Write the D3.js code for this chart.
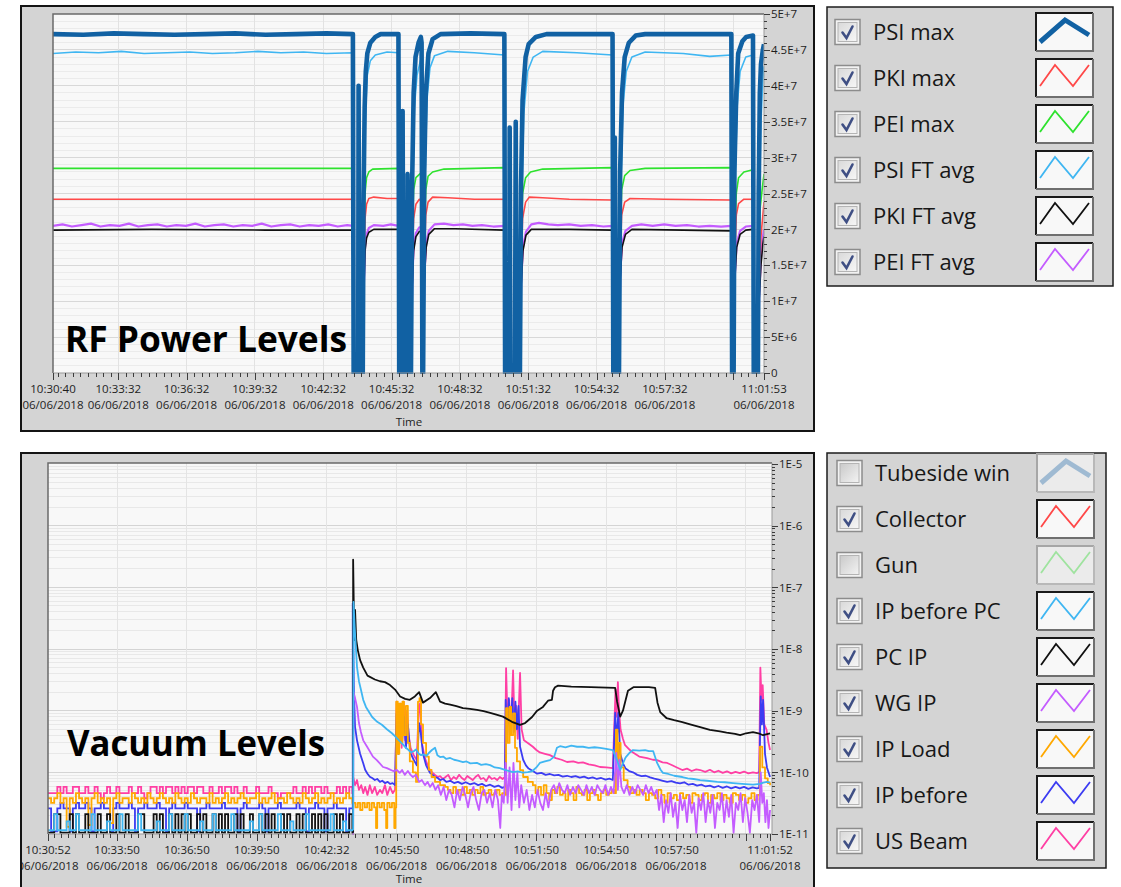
<!DOCTYPE html>
<html>
<head>
<meta charset="utf-8">
<title>RF Power and Vacuum Levels</title>
<script src="https://cdn.jsdelivr.net/npm/d3@7/dist/d3.min.js"></script>
<style>
  html, body { margin: 0; padding: 0; background: #ffffff; }
  svg { display: block; }
</style>
</head>
<body>
<svg id="chart" width="1121" height="887"></svg>
<script>
// All sample times are seconds after 10:30:00 on 06/06/2018.

// ---------------- RF power levels (W) ----------------
const RF_NAMES  = ["PSI max", "PKI max", "PEI max", "PSI FT avg", "PKI FT avg", "PEI FT avg"];
const RF_COLORS = ["#1161a3", "#ff4848", "#2ee22e", "#3fb6f2", "#111111", "#c45cff"];
const RF_WIDTHS = [4.6, 1.6, 1.6, 1.6, 1.6, 2.2];

const PSI_MAX = [
  [40,4.72e7],[120,4.71e7],[200,4.73e7],[280,4.72e7],[360,4.71e7],[440,4.72e7],[520,4.73e7],[600,4.71e7],[680,4.72e7],[760,4.73e7],[830,4.72e7],
  [832,0],[844,0],[845,4.0e7],[847,0],[856,0],[858,2.4e7],[861,3.7e7],[864,4.2e7],[868,4.45e7],[876,4.6e7],[889,4.68e7],[903,4.72e7],[950,4.72e7],
  [952,0],[960,0],[961,3.65e7],[963,0],[973,0],[974,2.77e7],[976,0],[983,0],[986,2.6e7],[990,3.9e7],[995,4.4e7],[1003,4.6e7],[1009,4.68e7],[1011,4.6e7],
  [1013,0],[1015,0],[1018,2.8e7],[1022,3.9e7],[1029,4.45e7],[1040,4.65e7],[1061,4.72e7],[1140,4.73e7],[1229,4.72e7],
  [1231,0],[1242,0],[1243,3.42e7],[1245,0],[1257,0],[1259,3.5e7],[1261,0],[1270,0],[1273,2.6e7],[1277,3.8e7],[1285,4.4e7],[1293,4.58e7],[1312,4.68e7],[1340,4.72e7],[1430,4.72e7],[1514,4.72e7],
  [1516,0],[1519,0],[1520,3.28e7],[1522,0],[1531,0],[1534,2.8e7],[1539,3.9e7],[1546,4.4e7],[1557,4.6e7],[1575,4.7e7],[1600,4.72e7],[1700,4.72e7],[1827,4.72e7],
  [1829,0],[1833,0],[1835,2.8e7],[1840,3.9e7],[1845,4.45e7],[1856,4.62e7],[1866,4.68e7],[1884,4.7e7],
  [1886,0],[1897,0],[1899,2.5e7],[1902,3.9e7],[1905,4.3e7],[1910,4.5e7],[1913,4.58e7]
];
const PKI_MAX = [
  [40,2.42e7],[300,2.42e7],[600,2.42e7],[830,2.42e7],
  [832,0],[856,0],[859,1.6e7],[862,2.15e7],[866,2.35e7],[872,2.43e7],[885,2.45e7],[920,2.43e7],[950,2.43e7],
  [952,0],[983,0],[986,1.6e7],[990,2.15e7],[996,2.35e7],[1005,2.42e7],[1011,2.4e7],
  [1013,0],[1015,0],[1018,1.6e7],[1022,2.2e7],[1028,2.38e7],[1040,2.45e7],[1080,2.44e7],[1150,2.42e7],[1229,2.42e7],
  [1231,0],[1270,0],[1273,1.5e7],[1277,2.15e7],[1285,2.38e7],[1295,2.45e7],[1330,2.44e7],[1400,2.42e7],[1514,2.41e7],
  [1516,0],[1531,0],[1534,1.6e7],[1538,2.2e7],[1546,2.38e7],[1560,2.43e7],[1650,2.42e7],[1827,2.41e7],
  [1829,0],[1833,0],[1836,1.6e7],[1840,2.2e7],[1846,2.36e7],[1860,2.42e7],[1884,2.42e7],
  [1886,0],[1897,0],[1900,1.2e7],[1905,1.9e7],[1910,2.2e7],[1913,2.38e7]
];
const PEI_MAX = [
  [40,2.85e7],[300,2.85e7],[600,2.85e7],[830,2.85e7],
  [832,0],[856,0],[859,1.8e7],[862,2.5e7],[866,2.72e7],[872,2.8e7],[882,2.84e7],[950,2.85e7],
  [952,0],[983,0],[986,1.9e7],[990,2.55e7],[996,2.72e7],[1008,2.78e7],[1011,2.75e7],
  [1013,0],[1015,0],[1018,1.9e7],[1022,2.55e7],[1028,2.74e7],[1040,2.8e7],[1070,2.84e7],[1229,2.86e7],
  [1231,0],[1270,0],[1273,1.8e7],[1277,2.5e7],[1285,2.72e7],[1298,2.8e7],[1330,2.84e7],[1514,2.86e7],
  [1516,0],[1531,0],[1534,1.9e7],[1538,2.55e7],[1546,2.75e7],[1560,2.82e7],[1600,2.85e7],[1827,2.86e7],
  [1829,0],[1833,0],[1836,1.9e7],[1840,2.5e7],[1846,2.72e7],[1860,2.8e7],[1884,2.83e7],
  [1886,0],[1897,0],[1899,1.5e7],[1903,2.3e7],[1908,2.55e7],[1913,2.77e7]
];
const PSI_FT_AVG = [
  [40,4.45e7],[100,4.47e7],[160,4.46e7],[220,4.48e7],[280,4.45e7],[340,4.46e7],[400,4.47e7],[460,4.45e7],[520,4.46e7],[580,4.48e7],[640,4.46e7],[700,4.47e7],[760,4.45e7],[830,4.46e7],
  [832,0],[856,0],[859,2.0e7],[863,3.6e7],[868,4.15e7],[876,4.35e7],[889,4.43e7],[920,4.47e7],[950,4.46e7],
  [952,0],[983,0],[987,2.3e7],[992,3.7e7],[999,4.15e7],[1008,4.35e7],[1011,4.3e7],
  [1013,0],[1015,0],[1019,2.5e7],[1025,3.8e7],[1033,4.25e7],[1045,4.42e7],[1080,4.48e7],[1150,4.46e7],[1229,4.43e7],
  [1231,0],[1270,0],[1274,2.2e7],[1280,3.6e7],[1290,4.2e7],[1305,4.4e7],[1330,4.48e7],[1420,4.46e7],[1514,4.43e7],
  [1516,0],[1531,0],[1535,2.3e7],[1541,3.7e7],[1550,4.2e7],[1565,4.4e7],[1600,4.47e7],[1700,4.45e7],[1770,4.41e7],[1827,4.43e7],
  [1829,0],[1833,0],[1836,2.4e7],[1842,3.7e7],[1850,4.2e7],[1865,4.4e7],[1884,4.43e7],
  [1886,0],[1897,0],[1900,2.2e7],[1905,3.5e7],[1910,4.1e7],[1913,4.27e7]
];
const PKI_FT_AVG = [
  [40,1.99e7],[300,2.0e7],[600,1.99e7],[830,1.99e7],
  [832,0],[856,0],[859,1.2e7],[862,1.7e7],[866,1.88e7],[872,1.96e7],[885,2.0e7],[950,2.0e7],
  [952,0],[983,0],[986,1.2e7],[990,1.7e7],[996,1.9e7],[1005,1.97e7],[1011,1.98e7],
  [1013,0],[1015,0],[1018,1.3e7],[1023,1.75e7],[1030,1.93e7],[1045,2.01e7],[1100,2.01e7],[1229,1.99e7],
  [1231,0],[1270,0],[1273,1.2e7],[1278,1.7e7],[1286,1.92e7],[1300,2.0e7],[1400,2.0e7],[1514,1.99e7],
  [1516,0],[1531,0],[1534,1.3e7],[1539,1.75e7],[1548,1.93e7],[1565,2.0e7],[1700,1.99e7],[1827,1.98e7],
  [1829,0],[1833,0],[1836,1.3e7],[1841,1.75e7],[1850,1.93e7],[1865,1.99e7],[1884,2.0e7],
  [1886,0],[1897,0],[1900,1.0e7],[1905,1.5e7],[1910,1.8e7],[1913,1.9e7]
];
const PEI_FT_AVG = [
  [40,2.05e7],[65,2.07e7],[90,2.04e7],[115,2.06e7],[140,2.08e7],[165,2.04e7],[190,2.06e7],[215,2.05e7],[240,2.08e7],[265,2.04e7],[290,2.06e7],
  [315,2.07e7],[340,2.04e7],[365,2.06e7],[390,2.05e7],[415,2.08e7],[440,2.04e7],[465,2.06e7],[490,2.07e7],[515,2.04e7],[540,2.06e7],[565,2.05e7],
  [590,2.08e7],[615,2.04e7],[640,2.06e7],[665,2.07e7],[690,2.04e7],[715,2.06e7],[740,2.05e7],[765,2.07e7],[790,2.04e7],[815,2.06e7],[830,2.05e7],
  [832,0],[856,0],[859,1.25e7],[862,1.75e7],[866,1.93e7],[872,2.02e7],[885,2.06e7],[910,2.05e7],[930,2.07e7],[950,2.05e7],
  [952,0],[983,0],[986,1.25e7],[990,1.75e7],[996,1.95e7],[1005,2.03e7],[1011,2.03e7],
  [1013,0],[1015,0],[1018,1.35e7],[1023,1.8e7],[1030,1.98e7],[1045,2.07e7],[1070,2.08e7],[1095,2.06e7],[1120,2.07e7],[1145,2.05e7],[1170,2.06e7],[1200,2.04e7],[1229,2.05e7],
  [1231,0],[1270,0],[1273,1.25e7],[1278,1.75e7],[1286,1.97e7],[1300,2.07e7],[1320,2.09e7],[1345,2.07e7],[1370,2.06e7],[1400,2.07e7],[1430,2.05e7],[1460,2.06e7],[1490,2.04e7],[1514,2.05e7],
  [1516,0],[1531,0],[1534,1.35e7],[1539,1.8e7],[1548,1.98e7],[1565,2.05e7],[1590,2.07e7],[1620,2.05e7],[1650,2.07e7],[1680,2.05e7],[1710,2.06e7],[1740,2.04e7],[1770,2.05e7],[1800,2.04e7],[1827,2.05e7],
  [1829,0],[1833,0],[1836,1.35e7],[1841,1.8e7],[1850,1.98e7],[1865,2.04e7],[1884,2.05e7],
  [1886,0],[1897,0],[1900,1.05e7],[1905,1.6e7],[1910,1.9e7],[1913,2.0e7]
];

const RF_X_TICKS  = [40, 212, 392, 572, 752, 932, 1112, 1292, 1472, 1652, 1832, 1913];
const RF_X_LABELS = ["10:30:40","10:33:32","10:36:32","10:39:32","10:42:32","10:45:32","10:48:32","10:51:32","10:54:32","10:57:32","","11:01:53"];
const RF_Y_TICKS  = [0, 5e6, 1e7, 1.5e7, 2e7, 2.5e7, 3e7, 3.5e7, 4e7, 4.5e7, 5e7];
const RF_Y_LABELS = ["0","5E+6","1E+7","1.5E+7","2E+7","2.5E+7","3E+7","3.5E+7","4E+7","4.5E+7","5E+7"];

// ---------------- Vacuum levels (mbar) ----------------
const VAC_NAMES   = ["Tubeside win","Collector","Gun","IP before PC","PC IP","WG IP","IP Load","IP before","US Beam"];
const VAC_COLORS  = ["#86a9c9","#ff4848","#86e086","#3fb6f2","#111111","#c45cff","#ffa800","#3c3cf2","#ff3fa4"];
const VAC_ENABLED = [false, true, false, true, true, true, true, true, true];

// Quiet period 10:30:52 - 10:43:56, logged every 8 s.
const BASE_T0 = 52, BASE_DT = 8;
const US_BEAM_BASE = [
  4.6e-11,4.6e-11,4.6e-11,5.8e-11,4.6e-11,5.8e-11,4.6e-11,4.6e-11,5.8e-11,5.8e-11,4.6e-11,
  4.6e-11,5.8e-11,4.6e-11,4.6e-11,5.8e-11,4.6e-11,3.8e-11,4.6e-11,5.8e-11,4.6e-11,4.6e-11,
  5.8e-11,4.6e-11,4.6e-11,4.6e-11,5.8e-11,4.6e-11,4.6e-11,5.8e-11,4.6e-11,3.8e-11,4.6e-11,
  5.8e-11,5.8e-11,4.6e-11,5.8e-11,4.6e-11,5.8e-11,5.8e-11,4.6e-11,5.8e-11,4.6e-11,5.8e-11,
  4.6e-11,5.8e-11,5.8e-11,4.6e-11,5.8e-11,5.8e-11,4.6e-11,4.6e-11,5.8e-11,4.6e-11,4.6e-11,
  5.8e-11,4.6e-11,5.8e-11,5.8e-11,4.6e-11,5.8e-11,4.6e-11,4.6e-11,5.8e-11,4.6e-11,4.6e-11,
  4.6e-11,5.8e-11,4.6e-11,4.6e-11,4.6e-11,5.8e-11,4.6e-11,4.6e-11,3.8e-11,4.6e-11,4.6e-11,
  4.6e-11,4.6e-11,5.8e-11,4.6e-11,4.6e-11,5.8e-11,4.6e-11,5.8e-11,4.6e-11,5.8e-11,5.8e-11,
  4.6e-11,5.8e-11,4.6e-11,4.6e-11,4.6e-11,5.8e-11,4.6e-11,5.8e-11,4.6e-11,5.8e-11,4.6e-11
];
const IP_LOAD_BASE = [
  3.8e-11,3.2e-11,3.8e-11,4.6e-11,3.2e-11,3.8e-11,1.3e-11,3.8e-11,3.2e-11,4.6e-11,3.8e-11,
  3.2e-11,3.8e-11,1.4e-11,3.8e-11,4.6e-11,3.2e-11,3.8e-11,3.2e-11,3.8e-11,1.5e-11,3.8e-11,
  4.6e-11,3.2e-11,3.8e-11,3.8e-11,3.2e-11,4.6e-11,3.8e-11,3.2e-11,3.8e-11,3.2e-11,4.6e-11,
  3.8e-11,3.2e-11,3.8e-11,4.6e-11,3.8e-11,3.2e-11,3.8e-11,3.2e-11,4.6e-11,3.8e-11,3.2e-11,
  3.8e-11,3.2e-11,4.6e-11,3.8e-11,3.2e-11,3.8e-11,3.8e-11,3.2e-11,4.6e-11,3.2e-11,3.8e-11,
  3.2e-11,3.8e-11,4.6e-11,3.2e-11,3.8e-11,3.2e-11,3.8e-11,4.6e-11,3.8e-11,3.2e-11,3.8e-11,
  3.8e-11,4.6e-11,3.2e-11,3.8e-11,3.2e-11,3.8e-11,4.6e-11,3.2e-11,3.8e-11,3.8e-11,3.2e-11,
  4.6e-11,3.8e-11,3.2e-11,3.8e-11,3.2e-11,4.6e-11,3.8e-11,3.2e-11,3.8e-11,4.6e-11,3.2e-11,
  3.8e-11,3.2e-11,3.8e-11,4.6e-11,3.2e-11,3.8e-11,3.2e-11,3.8e-11,4.6e-11,3.8e-11,3.2e-11
];
const IP_BEFORE_BASE = [
  2.6e-11,1.1e-11,1.1e-11,2.6e-11,3.2e-11,2.6e-11,2.6e-11,1.1e-11,2.6e-11,3.2e-11,2.6e-11,
  2.6e-11,3.2e-11,2.6e-11,1.1e-11,2.6e-11,2.6e-11,3.2e-11,2.6e-11,2.6e-11,1.1e-11,2.6e-11,
  3.2e-11,2.6e-11,2.6e-11,2.6e-11,3.2e-11,2.6e-11,1.1e-11,2.6e-11,2.6e-11,3.2e-11,2.6e-11,
  2.6e-11,2.6e-11,3.2e-11,2.6e-11,2.6e-11,1.1e-11,2.6e-11,3.2e-11,2.6e-11,2.6e-11,2.6e-11,
  3.2e-11,2.6e-11,2.6e-11,2.6e-11,1.1e-11,2.6e-11,2.6e-11,3.2e-11,2.6e-11,2.6e-11,2.6e-11,
  2.6e-11,3.2e-11,2.6e-11,2.6e-11,2.6e-11,2.6e-11,1.1e-11,2.6e-11,3.2e-11,2.6e-11,2.6e-11,
  2.6e-11,2.6e-11,3.2e-11,2.6e-11,1.1e-11,2.6e-11,2.6e-11,2.6e-11,3.2e-11,2.6e-11,2.6e-11,
  2.6e-11,2.6e-11,2.6e-11,3.2e-11,2.6e-11,2.6e-11,1.1e-11,2.6e-11,2.6e-11,3.2e-11,2.6e-11,
  2.6e-11,1.1e-11,2.6e-11,2.6e-11,3.2e-11,2.6e-11,2.6e-11,2.6e-11,1.1e-11,2.6e-11,2.6e-11
];
const PC_IP_BASE = [
  1.05e-11,1.05e-11,2.1e-11,2.1e-11,1.05e-11,1.05e-11,1.05e-11,2.1e-11,1.05e-11,2.1e-11,1.05e-11,
  1.05e-11,2.1e-11,1.05e-11,1.05e-11,1.05e-11,2.1e-11,1.05e-11,1.05e-11,2.1e-11,1.05e-11,1.05e-11,
  2.1e-11,1.05e-11,1.05e-11,2.1e-11,1.05e-11,1.05e-11,1.05e-11,2.1e-11,2.1e-11,1.05e-11,1.05e-11,
  1.05e-11,2.1e-11,1.05e-11,2.1e-11,1.05e-11,1.05e-11,2.1e-11,1.05e-11,2.1e-11,1.05e-11,2.1e-11,
  1.05e-11,2.1e-11,1.05e-11,1.05e-11,2.1e-11,1.05e-11,2.1e-11,1.05e-11,1.05e-11,2.1e-11,1.05e-11,
  2.1e-11,1.05e-11,2.1e-11,1.05e-11,1.05e-11,2.1e-11,1.05e-11,2.1e-11,1.05e-11,1.05e-11,2.1e-11,
  1.05e-11,1.05e-11,2.1e-11,1.05e-11,2.1e-11,1.05e-11,2.1e-11,1.05e-11,1.05e-11,2.1e-11,1.05e-11,
  2.1e-11,1.05e-11,1.05e-11,2.1e-11,1.05e-11,2.1e-11,1.05e-11,1.05e-11,2.1e-11,1.05e-11,2.1e-11,
  1.05e-11,2.1e-11,1.05e-11,1.05e-11,2.1e-11,1.05e-11,2.1e-11,1.05e-11,1.05e-11,2.1e-11,1.05e-11
];
const IP_BEFORE_PC_BASE = [
  1.15e-11,1.15e-11,2.1e-11,1.15e-11,1.15e-11,1.15e-11,1.6e-11,1.15e-11,1.15e-11,2.1e-11,1.15e-11,
  1.15e-11,1.15e-11,1.15e-11,2.1e-11,1.15e-11,1.15e-11,1.15e-11,1.15e-11,1.6e-11,1.15e-11,1.15e-11,
  1.15e-11,2.1e-11,1.15e-11,1.15e-11,1.15e-11,1.15e-11,1.15e-11,2.1e-11,1.15e-11,1.15e-11,1.15e-11,
  1.15e-11,1.15e-11,1.6e-11,1.15e-11,1.15e-11,1.15e-11,2.1e-11,1.15e-11,1.15e-11,1.15e-11,1.15e-11,
  2.1e-11,1.15e-11,1.15e-11,1.15e-11,1.15e-11,1.6e-11,1.15e-11,1.15e-11,1.15e-11,2.1e-11,1.15e-11,
  1.15e-11,1.15e-11,1.15e-11,1.15e-11,2.1e-11,1.15e-11,1.15e-11,1.15e-11,1.15e-11,1.15e-11,1.6e-11,
  1.15e-11,1.15e-11,2.1e-11,1.15e-11,1.15e-11,1.15e-11,1.15e-11,1.15e-11,2.1e-11,1.15e-11,1.15e-11,
  1.15e-11,1.6e-11,1.15e-11,1.15e-11,1.15e-11,1.15e-11,2.1e-11,1.15e-11,1.15e-11,1.15e-11,1.15e-11,
  1.15e-11,1.15e-11,1.15e-11,2.1e-11,1.15e-11,1.15e-11,1.15e-11,1.6e-11,1.15e-11,1.15e-11,1.15e-11
];

// RF turn-on at 10:43:58 and the activity that follows.
const US_BEAM_RUN = [
  [838,8.4e-11],[843,6.2e-11],[848,7.5e-11],[853,5.2e-11],[859,6.2e-11],[864,4.6e-11],[869,5.8e-11],[875,4.3e-11],[881,6.2e-11],[887,4.6e-11],[894,5.8e-11],[900,4.3e-11],[907,5.2e-11],[913,4.6e-11],[920,6.2e-11],[926,4.3e-11],[933,5.8e-11],[940,4.6e-11],[946,5.2e-11],
  [950,1.4e-9],[954,3.0e-10],[959,1.3e-9],[963,2.5e-10],[968,1.4e-9],[972,3.3e-10],[977,1.0e-9],[981,4.0e-10],[986,2.5e-10],[994,1.9e-10],[1002,1.58e-10],[1007,1.2e-9],[1010,1.3e-9],[1015,3.0e-10],[1023,1.7e-10],[1030,1.3e-10],[1036,1.09e-10],[1043,9.8e-11],[1049,9.1e-11],[1056,8.4e-11],
  [1062,8.7e-11],[1069,7.8e-11],[1076,8.4e-11],[1083,9.1e-11],[1090,7.5e-11],[1097,8.4e-11],[1104,7.8e-11],[1111,9.1e-11],[1118,8.1e-11],[1125,7.5e-11],[1132,8.7e-11],[1139,8.1e-11],[1146,7.5e-11],[1153,8.4e-11],[1160,9.1e-11],[1167,7.8e-11],[1174,8.1e-11],[1181,7.2e-11],[1188,8.7e-11],[1195,7.8e-11],[1202,8.1e-11],[1209,7.5e-11],[1216,8.4e-11],[1223,7.8e-11],[1229,8.4e-11],
  [1232,4.9e-9],[1236,6.0e-10],[1240,1.5e-9],[1244,4.0e-10],[1250,4.5e-9],[1254,5.0e-10],[1258,1.2e-9],[1262,3.5e-10],[1268,4.1e-9],[1272,5.0e-10],[1278,3.3e-10],[1288,3.0e-10],[1301,2.6e-10],[1310,2.3e-10],[1319,2.1e-10],[1332,2.0e-10],[1345,1.9e-10],[1360,1.7e-10],[1375,1.6e-10],[1389,1.47e-10],[1405,1.5e-10],[1418,1.42e-10],[1430,1.45e-10],[1445,1.35e-10],[1460,1.3e-10],[1474,1.22e-10],[1490,1.2e-10],[1507,1.17e-10],
  [1514,2.2e-9],[1517,8.0e-10],[1520,2.9e-9],[1523,1.0e-9],[1527,4.9e-10],[1533,3.5e-10],[1538,2.8e-10],[1551,2.3e-10],[1559,2.1e-10],[1575,1.8e-10],[1595,1.7e-10],[1610,1.6e-10],[1621,1.58e-10],[1635,1.45e-10],[1647,1.42e-10],[1660,1.3e-10],[1672,1.2e-10],[1686,1.09e-10],[1698,1.15e-10],[1710,1.05e-10],[1722,1.12e-10],[1732,1.09e-10],[1745,1.02e-10],[1757,1.1e-10],[1768,1.0e-10],[1779,1.06e-10],[1790,9.8e-11],[1801,1.04e-10],[1812,9.6e-11],[1823,1.02e-10],[1834,9.7e-11],[1845,1.03e-10],[1856,9.6e-11],[1868,1.0e-10],[1878,9.7e-11],[1884,1.01e-10],
  [1887,5.0e-9],[1890,1.5e-9],[1893,2.6e-9],[1897,6.0e-10],[1903,4.9e-10],[1908,3.0e-10],[1912,2.3e-10]
];
const IP_BEFORE_RUN = [
  [837,5.5e-8],[840,2.0e-9],[843,5.4e-10],[848,3.3e-10],[856,2.0e-10],[864,1.4e-10],[869,1.1e-10],[875,9.5e-11],[881,8.5e-11],[887,8.1e-11],[894,7.5e-11],[900,7.8e-11],[907,7.0e-11],[913,7.3e-11],[920,6.7e-11],[927,7.0e-11],[933,6.5e-11],[940,6.7e-11],[946,6.2e-11],
  [950,9.0e-10],[955,2.0e-10],[960,9.2e-10],[964,3.0e-10],[969,8.0e-10],[974,2.5e-10],[979,6.0e-10],[985,2.1e-10],[994,1.6e-10],[1002,1.3e-10],[1008,6.3e-10],[1012,4.5e-10],[1018,2.0e-10],[1026,1.3e-10],[1036,9.8e-11],[1043,9.1e-11],[1049,8.4e-11],[1056,8.1e-11],
  [1062,7.5e-11],[1070,7.8e-11],[1078,7.0e-11],[1088,7.3e-11],[1098,6.7e-11],[1108,7.0e-11],[1118,6.5e-11],[1128,6.9e-11],[1139,6.4e-11],[1150,6.7e-11],[1160,6.2e-11],[1170,6.5e-11],[1180,6.0e-11],[1191,6.3e-11],[1202,5.8e-11],[1212,6.1e-11],[1222,5.6e-11],[1229,5.8e-11],
  [1231,1.5e-9],[1235,4.0e-10],[1239,1.6e-9],[1243,5.0e-10],[1248,1.6e-9],[1252,4.5e-10],[1256,1.4e-9],[1260,5.0e-10],[1264,1.2e-9],[1268,2.6e-10],[1276,1.6e-10],[1283,1.3e-10],[1290,1.15e-10],[1301,1.05e-10],[1312,9.5e-11],[1323,9.8e-11],[1334,9.1e-11],[1345,9.4e-11],[1356,8.9e-11],[1367,9.1e-11],[1378,8.5e-11],[1389,8.8e-11],[1400,8.4e-11],[1411,8.7e-11],[1422,8.2e-11],[1433,8.5e-11],[1444,8.0e-11],[1455,8.3e-11],[1466,7.8e-11],[1477,8.1e-11],[1488,7.6e-11],[1498,7.9e-11],[1507,7.5e-11],
  [1513,9.2e-10],[1517,3.0e-10],[1521,9.2e-10],[1526,2.0e-10],[1533,1.4e-10],[1540,1.15e-10],[1549,1.05e-10],[1559,1.0e-10],[1570,9.1e-11],[1581,8.7e-11],[1592,8.8e-11],[1603,8.3e-11],[1614,7.9e-11],[1625,7.6e-11],[1636,7.3e-11],[1647,7.0e-11],[1658,7.2e-11],[1669,6.8e-11],[1680,6.6e-11],[1691,6.9e-11],[1702,6.3e-11],[1713,6.5e-11],[1724,6.1e-11],[1735,6.3e-11],[1746,5.9e-11],[1757,6.1e-11],[1768,5.7e-11],[1779,6.0e-11],[1790,5.6e-11],[1801,5.9e-11],[1812,5.5e-11],[1823,5.8e-11],[1834,5.5e-11],[1845,5.8e-11],[1856,5.4e-11],[1867,5.7e-11],[1878,5.5e-11],[1884,5.6e-11],
  [1888,1.7e-9],[1891,6.0e-10],[1894,1.5e-9],[1899,2.0e-10],[1904,1.2e-10],[1912,8.4e-11]
];
const IP_LOAD_RUN = [
  [838,3.2e-11],[844,2.7e-11],[850,3.2e-11],[856,2.45e-11],[862,3.2e-11],[868,2.7e-11],[874,3.2e-11],[880,2.45e-11],[886,3.2e-11],[892,2.7e-11],[897,1.25e-11],[900,3.2e-11],[906,2.7e-11],[912,3.2e-11],[918,2.45e-11],[923,1.25e-11],[926,3.2e-11],[932,2.7e-11],[938,3.2e-11],[944,1.25e-11],[947,2.7e-11],
  [949,1.4e-9],[953,2.0e-10],[957,1.3e-9],[961,3.0e-10],[965,1.4e-9],[969,4.0e-10],[974,1.2e-9],[979,3.0e-10],[984,1.5e-10],[992,1.0e-10],[1000,7.0e-11],[1005,1.4e-9],[1009,1.6e-9],[1013,6.0e-10],[1018,3.0e-10],[1026,1.8e-10],[1033,1.1e-10],[1040,8.4e-11],[1049,7.0e-11],[1062,6.2e-11],[1075,5.8e-11],
  [1082,5.2e-11],[1089,4.6e-11],[1096,5.8e-11],[1103,4.6e-11],[1110,5.2e-11],[1117,4.3e-11],[1124,5.8e-11],[1131,4.6e-11],[1138,5.2e-11],[1145,4.3e-11],[1152,5.2e-11],[1159,4.6e-11],[1166,5.8e-11],[1173,4.3e-11],[1180,4.6e-11],[1187,5.2e-11],[1194,4.3e-11],[1201,4.6e-11],[1208,5.2e-11],[1215,4.3e-11],[1222,4.6e-11],[1229,4.3e-11],
  [1232,1.1e-9],[1236,3.0e-10],[1241,1.15e-9],[1245,4.0e-10],[1250,9.0e-10],[1255,2.5e-10],[1260,1.5e-10],[1268,1.09e-10],[1276,8.4e-11],[1288,7.0e-11],[1301,6.2e-11],
  [1308,4.6e-11],[1315,5.8e-11],[1322,4.3e-11],[1329,6.2e-11],[1336,4.6e-11],[1343,3.55e-11],[1350,5.2e-11],[1357,4.6e-11],[1364,5.8e-11],[1371,4.3e-11],[1378,4.6e-11],[1385,3.55e-11],[1392,5.2e-11],[1399,4.6e-11],[1406,3.55e-11],[1413,5.8e-11],[1420,4.6e-11],[1427,4.3e-11],[1434,5.2e-11],[1441,3.55e-11],[1448,4.6e-11],[1455,5.2e-11],[1462,4.3e-11],[1469,3.55e-11],[1476,4.6e-11],[1483,5.2e-11],[1490,4.3e-11],[1497,4.6e-11],[1504,5.2e-11],[1511,4.6e-11],
  [1515,4.9e-10],[1519,1.5e-10],[1522,3.0e-10],[1527,1.2e-10],[1535,7.5e-11],[1545,5.8e-11],
  [1552,4.6e-11],[1560,5.2e-11],[1568,4.3e-11],[1576,5.2e-11],[1584,4.6e-11],[1592,3.55e-11],[1600,4.6e-11],[1608,4.3e-11],[1616,3.8e-11],[1624,5.2e-11],[1632,4.3e-11],[1640,3.2e-11],[1648,4.6e-11],[1656,3.8e-11],[1664,4.3e-11],[1672,3.55e-11],[1680,4.6e-11],[1688,3.8e-11],[1696,4.3e-11],[1704,3.2e-11],[1712,4.6e-11],
  [1720,4.3e-11],[1728,3.55e-11],[1736,4.3e-11],[1744,4.6e-11],[1752,3.2e-11],[1760,4.3e-11],[1768,3.8e-11],[1776,4.6e-11],[1784,3.55e-11],[1792,4.3e-11],[1800,3.8e-11],[1808,3.2e-11],[1816,4.6e-11],[1824,4.3e-11],[1832,3.55e-11],[1840,4.3e-11],[1848,3.2e-11],[1856,3.8e-11],[1864,4.6e-11],[1872,3.55e-11],[1880,4.3e-11],
  [1886,2.6e-10],[1892,1.2e-10],[1899,8.0e-11],[1906,6.7e-11],[1912,6.2e-11]
];
const WG_IP_RUN = [
  [836,9e-12],[838,9e-12],[839,2.0e-9],[843,1.6e-9],[848,1.15e-9],[853,6.3e-10],[858,4.5e-10],[864,3.3e-10],[874,2.6e-10],[889,1.8e-10],[899,1.58e-10],[915,1.22e-10],[925,1.17e-10],[941,1.05e-10],[951,1.09e-10],
  [958,9.8e-11],[964,1.09e-10],[971,9.1e-11],[979,1.05e-10],[986,9.1e-11],[992,8.4e-11],[1000,9.1e-11],[1008,7.0e-11],[1015,7.5e-11],[1023,6.2e-11],[1030,7.0e-11],[1036,5.8e-11],[1043,6.7e-11],[1050,5.2e-11],[1057,6.2e-11],
  [1064,4.3e-11],[1071,5.8e-11],[1078,3.55e-11],[1085,5.2e-11],[1092,4.3e-11],[1099,2.7e-11],[1106,5.2e-11],[1113,3.55e-11],[1120,5.8e-11],[1127,4.3e-11],[1134,2.7e-11],[1141,4.6e-11],[1148,5.8e-11],[1155,3.55e-11],[1162,2.45e-11],[1169,4.6e-11],[1176,5.2e-11],[1183,3.2e-11],[1190,4.6e-11],[1197,2.7e-11],[1204,5.2e-11],[1211,3.55e-11],[1217,1.25e-11],[1221,4.3e-11],[1226,3.2e-11],
  [1231,1.42e-10],[1236,3.2e-11],[1241,1.2e-10],[1246,2.45e-11],[1251,1.42e-10],[1256,3.55e-11],[1261,9.8e-11],[1266,2.7e-11],[1271,6.2e-11],
  [1278,3.2e-11],[1285,5.2e-11],[1292,2.45e-11],[1299,4.3e-11],[1306,2.7e-11],[1313,5.2e-11],[1320,3.2e-11],[1327,2.45e-11],[1334,4.6e-11],[1341,2.7e-11],[1348,5.2e-11],
  [1355,6.2e-11],[1362,4.6e-11],[1369,6.7e-11],[1376,5.2e-11],[1383,4.6e-11],[1390,6.2e-11],[1397,4.3e-11],[1404,5.8e-11],[1411,4.6e-11],[1418,6.2e-11],[1425,5.2e-11],[1432,4.3e-11],[1439,6.2e-11],[1446,4.6e-11],[1453,5.8e-11],[1460,4.3e-11],[1467,6.2e-11],[1474,5.2e-11],[1481,4.6e-11],[1488,6.2e-11],[1495,4.3e-11],[1502,5.8e-11],[1509,4.6e-11],
  [1516,2.06e-10],[1520,5.2e-11],[1524,1.6e-10],[1529,5.8e-11],
  [1536,4.6e-11],[1543,6.2e-11],[1550,4.3e-11],[1557,5.8e-11],[1564,4.6e-11],[1571,6.2e-11],[1578,5.2e-11],[1585,4.3e-11],[1592,6.2e-11],[1599,4.6e-11],[1606,5.8e-11],[1613,4.3e-11],[1620,5.2e-11],
  [1626,2.45e-11],[1632,4.3e-11],[1638,1.56e-11],[1644,3.55e-11],[1650,2.2e-11],[1656,4.6e-11],[1662,1.9e-11],[1668,3.2e-11],[1674,1.25e-11],[1680,4.3e-11],[1686,2.45e-11],[1692,3.55e-11],[1698,1.56e-11],[1704,4.3e-11],[1710,2.2e-11],[1716,3.2e-11],[1722,1.04e-11],[1728,3.8e-11],[1734,2.45e-11],[1740,4.6e-11],[1746,1.56e-11],[1752,3.55e-11],[1758,2.2e-11],[1764,4.3e-11],[1770,1.25e-11],[1776,3.2e-11],[1782,2.45e-11],[1788,4.6e-11],[1794,1.56e-11],[1800,3.55e-11],[1806,1.9e-11],[1812,4.3e-11],[1818,1.04e-11],[1824,3.2e-11],[1830,2.45e-11],[1836,4.6e-11],[1842,1.56e-11],[1848,3.8e-11],[1854,2.2e-11],[1860,1.04e-11],[1866,3.55e-11],[1872,2.45e-11],[1878,4.3e-11],[1884,1.56e-11],
  [1888,1.0e-10],[1892,3.2e-11],[1896,4.6e-11],[1900,1.56e-11],[1904,3.55e-11],[1908,1.25e-11],[1912,2.45e-11]
];
const PC_IP_RUN = [
  [838,2.8e-7],[841,1.4e-8],[843,4.3e-8],[846,1.4e-8],[850,9.6e-9],[856,6.6e-9],[864,5.0e-9],[875,3.7e-9],[894,3.2e-9],[907,3.0e-9],[920,2.9e-9],[933,2.6e-9],[946,2.2e-9],[959,1.7e-9],[972,1.55e-9],[984,1.5e-9],[997,1.7e-9],[1008,2.0e-9],[1018,1.35e-9],[1036,1.6e-9],[1051,2.0e-9],[1062,1.4e-9],
  [1075,1.3e-9],[1088,1.25e-9],[1104,1.18e-9],[1121,1.1e-9],[1139,1.07e-9],[1157,1.03e-9],[1174,9.8e-10],[1191,9.2e-10],[1207,8.6e-10],[1224,8.0e-10],[1247,6.6e-10],[1268,5.9e-10],[1281,6.3e-10],[1299,7.9e-10],[1312,1.0e-9],[1327,1.15e-9],[1340,1.45e-9],[1350,1.5e-9],[1353,2.1e-9],[1358,2.4e-9],[1366,2.55e-9],
  [1400,2.45e-9],[1450,2.4e-9],[1513,2.35e-9],[1518,1.4e-9],[1526,8.0e-10],[1533,1.0e-9],[1546,2.1e-9],[1560,2.4e-9],[1600,2.4e-9],[1616,2.35e-9],[1622,1.35e-9],[1629,9.5e-10],[1645,7.6e-10],[1665,7.0e-10],[1686,6.5e-10],[1706,6.0e-10],[1732,5.4e-10],[1757,4.9e-10],[1783,4.6e-10],[1800,4.4e-10],[1822,4.2e-10],[1835,4.0e-10],[1850,4.3e-10],[1868,4.5e-10],[1882,4.3e-10],[1894,4.0e-10],[1912,4.3e-10]
];
const IP_BEFORE_PC_RUN = [
  [838,1.15e-11],[839,5.8e-8],[842,2.3e-8],[848,5.1e-9],[853,3.0e-9],[858,2.2e-9],[864,1.5e-9],[871,1.15e-9],[879,9.5e-10],[887,7.9e-10],[900,6.6e-10],[912,5.9e-10],[925,5.0e-10],[938,4.3e-10],[947,3.8e-10],[956,3.3e-10],[965,2.9e-10],[974,2.5e-10],[981,2.3e-10],[987,2.1e-10],[994,2.2e-10],
  [1000,2.35e-10],[1007,2.0e-10],[1013,1.9e-10],[1020,1.95e-10],[1027,1.85e-10],[1033,2.06e-10],[1041,2.3e-10],[1049,2.5e-10],[1055,1.9e-10],[1062,1.77e-10],[1070,1.8e-10],[1078,1.65e-10],[1088,1.71e-10],[1098,1.6e-10],[1108,1.55e-10],[1121,1.47e-10],[1130,1.5e-10],[1140,1.4e-10],[1157,1.42e-10],[1168,1.32e-10],[1180,1.36e-10],[1191,1.31e-10],[1203,1.2e-10],[1216,1.17e-10],
  [1229,1.1e-10],[1240,1.05e-10],[1250,1.01e-10],[1262,1.04e-10],[1275,9.9e-11],[1288,1.01e-10],[1300,1.05e-10],[1310,1.2e-10],[1319,1.42e-10],[1332,1.5e-10],[1345,1.58e-10],[1356,1.8e-10],[1363,2.5e-10],[1371,2.65e-10],[1385,2.55e-10],[1400,2.7e-10],[1415,2.6e-10],[1430,2.6e-10],[1445,2.5e-10],[1460,2.55e-10],[1474,2.5e-10],[1490,2.4e-10],[1507,2.3e-10],
  [1518,1.58e-10],[1526,1.09e-10],[1533,1.4e-10],[1540,1.75e-10],[1551,2.1e-10],[1559,2.3e-10],[1575,2.25e-10],[1590,2.3e-10],[1600,2.2e-10],[1611,2.2e-10],[1621,1.42e-10],[1630,1.1e-10],[1636,9.8e-11],[1650,9.4e-11],[1665,8.8e-11],[1686,8.4e-11],[1700,8.0e-11],[1715,7.8e-11],[1732,7.5e-11],[1750,7.3e-11],[1776,7.0e-11],[1795,6.9e-11],[1817,6.7e-11],[1840,6.5e-11],[1868,6.3e-11],[1886,6.5e-11],[1895,6.8e-11],[1904,7.0e-11],[1912,6.8e-11]
];

const VAC_X_TICKS  = [52, 230, 410, 590, 770, 950, 1130, 1310, 1490, 1670, 1850, 1912];
const VAC_X_LABELS = ["10:30:52","10:33:50","10:36:50","10:39:50","10:42:32","10:45:50","10:48:50","10:51:50","10:54:50","10:57:50","","11:01:52"];
const VAC_Y_TICKS  = [1e-11, 1e-10, 1e-9, 1e-8, 1e-7, 1e-6, 1e-5];
const VAC_Y_LABELS = ["1E-11","1E-10","1E-9","1E-8","1E-7","1E-6","1E-5"];
const DATE_LABEL = "06/06/2018";

// ---------------- drawing ----------------
const FONT = "'Open Sans','Noto Sans','DejaVu Sans',sans-serif";
const svg = d3.select("#chart");
const defs = svg.append("defs");

const cbGrad = defs.append("linearGradient").attr("id", "cbOn").attr("x1", 0).attr("y1", 0).attr("x2", 1).attr("y2", 1);
cbGrad.append("stop").attr("offset", "0%").attr("stop-color", "#d9d9d9");
cbGrad.append("stop").attr("offset", "100%").attr("stop-color", "#f7f7f7");
const cbGrad2 = defs.append("linearGradient").attr("id", "cbOff").attr("x1", 0).attr("y1", 0).attr("x2", 1).attr("y2", 1);
cbGrad2.append("stop").attr("offset", "0%").attr("stop-color", "#c9c9c9");
cbGrad2.append("stop").attr("offset", "100%").attr("stop-color", "#f3f3f3");

function clipRect(id, x, y, w, h) {
  defs.append("clipPath").attr("id", id).append("rect").attr("x", x).attr("y", y).attr("width", w).attr("height", h);
  return `url(#${id})`;
}

function panelFrame(x, y, w, h) {
  svg.append("rect").attr("x", x).attr("y", y).attr("width", w).attr("height", h)
    .attr("fill", "#d4d4d4").attr("stroke", "#141414").attr("stroke-width", 2);
}

function styleAxis(g) {
  g.attr("font-family", FONT).attr("font-size", 11.5);
  g.select(".domain").remove();
  g.selectAll(".tick line").attr("stroke", "#3c3c3c").attr("shape-rendering", "crispEdges");
  g.selectAll(".tick text").attr("fill", "#1e1e1e");
}

function timeLabels(xScale, ticks, labels, y, clip) {
  const g = svg.append("g").attr("font-family", FONT).attr("font-size", 11.5)
    .attr("fill", "#1e1e1e").attr("text-anchor", "middle");
  if (clip) g.attr("clip-path", clip);
  ticks.forEach((t, i) => {
    if (!labels[i]) return;
    const tx = g.append("text").attr("y", y);
    tx.append("tspan").attr("x", xScale(t)).text(labels[i]);
    tx.append("tspan").attr("x", xScale(t)).attr("dy", 16).text(DATE_LABEL);
  });
  return g;
}

// ===== Top panel: RF power =====
panelFrame(21, 6, 793, 425);
const rfX = d3.scaleLinear().domain([40, 1913]).range([53, 764]);
const rfY = d3.scaleLinear().domain([0, 5e7]).range([373, 14]);

svg.append("rect").attr("x", 53).attr("y", 14).attr("width", 711).attr("height", 359).attr("fill", "#f8f8f8");
const rfGrid = svg.append("g").attr("shape-rendering", "crispEdges");
rfGrid.selectAll("line.h").data(d3.range(1e6, 5e7, 1e6)).join("line")
  .attr("x1", 53).attr("x2", 764).attr("y1", d => rfY(d)).attr("y2", d => rfY(d))
  .attr("stroke", d => RF_Y_TICKS.includes(d) ? "#d8d8d8" : "#ebebeb");
rfGrid.selectAll("line.v").data(RF_X_TICKS.slice(1, -1)).join("line")
  .attr("y1", 14).attr("y2", 373).attr("x1", d => rfX(d)).attr("x2", d => rfX(d)).attr("stroke", "#e2e2e2");

const rfClip = clipRect("rfClip", 53, 14, 711, 360);
const rfLine = d3.line().x(d => rfX(d[0])).y(d => rfY(d[1]));
const rfData = [PSI_MAX, PKI_MAX, PEI_MAX, PSI_FT_AVG, PKI_FT_AVG, PEI_FT_AVG];
const rfLines = svg.append("g").attr("clip-path", rfClip);
for (let i = rfData.length - 1; i >= 0; i--) {
  rfLines.append("path").attr("d", rfLine(rfData[i])).attr("fill", "none")
    .attr("stroke", RF_COLORS[i]).attr("stroke-width", RF_WIDTHS[i]).attr("stroke-linejoin", "round");
}

// plot border and axes
svg.append("path").attr("d", "M53,373V14H764").attr("fill", "none").attr("stroke", "#6a6a6a").attr("stroke-width", 1.5);
svg.append("path").attr("d", "M764,14V373H53").attr("fill", "none").attr("stroke", "#9a9a9a").attr("stroke-width", 1);

const rfYMinor = d3.range(1e6, 5e7, 1e6).filter(v => !RF_Y_TICKS.includes(v));
svg.append("g").attr("transform", "translate(764,0)")
  .call(d3.axisRight(rfY).tickValues(rfYMinor).tickSize(3).tickFormat("")).call(styleAxis);
svg.append("g").attr("transform", "translate(764,0)")
  .call(d3.axisRight(rfY).tickValues(RF_Y_TICKS).tickSize(6).tickPadding(1).tickFormat((d, i) => RF_Y_LABELS[i])).call(styleAxis);

const rfXMinor = d3.range(212 - 20 * 9, 1913, 20).filter(t => t >= 40 && !RF_X_TICKS.includes(t));
svg.append("g").attr("transform", "translate(0,373)")
  .call(d3.axisBottom(rfX).tickValues(rfXMinor).tickSize(4).tickSizeOuter(0).tickFormat("")).call(styleAxis);
svg.append("g").attr("transform", "translate(0,373)")
  .call(d3.axisBottom(rfX).tickValues(RF_X_TICKS).tickSize(7).tickSizeOuter(0).tickFormat("")).call(styleAxis);

timeLabels(rfX, RF_X_TICKS, RF_X_LABELS, 393, null);
svg.append("text").attr("x", 409).attr("y", 426).attr("text-anchor", "middle")
  .attr("font-family", FONT).attr("font-size", 11.5).attr("fill", "#1e1e1e").text("Time");

svg.append("text").attr("x", 65).attr("y", 352).attr("font-family", FONT).attr("font-weight", 700)
  .attr("font-size", 35.5).attr("fill", "#000").attr("textLength", 282).attr("lengthAdjust", "spacingAndGlyphs")
  .text("RF Power Levels");

// ===== Bottom panel: vacuum =====
panelFrame(21, 453, 793, 460);
const vacFrameClip = clipRect("vacFrame", 22, 454, 791, 440);
const vacX = d3.scaleLinear().domain([52, 1917]).range([48, 772]);
const vacY = d3.scaleLog().domain([1e-11, 1e-5]).range([834, 464]);

svg.append("rect").attr("x", 48).attr("y", 463).attr("width", 724).attr("height", 371).attr("fill", "#f8f8f8");
const vacMinor = [];
for (let e = -11; e < -5; e++) for (let k = 2; k <= 9; k++) vacMinor.push(k * Math.pow(10, e));
const vacGrid = svg.append("g").attr("shape-rendering", "crispEdges");
vacGrid.selectAll("line.m").data(vacMinor).join("line")
  .attr("x1", 48).attr("x2", 772).attr("y1", d => vacY(d)).attr("y2", d => vacY(d)).attr("stroke", "#e8e8e8");
vacGrid.selectAll("line.M").data(VAC_Y_TICKS.slice(1, -1)).join("line")
  .attr("x1", 48).attr("x2", 772).attr("y1", d => vacY(d)).attr("y2", d => vacY(d)).attr("stroke", "#d4d4d4");
vacGrid.selectAll("line.v").data(VAC_X_TICKS.slice(1, -1)).join("line")
  .attr("y1", 463).attr("y2", 834).attr("x1", d => vacX(d)).attr("x2", d => vacX(d)).attr("stroke", "#e4e4e4");

// drawn bottom-to-top: later plots in the legend sit underneath
const vacPlots = [
  { base: US_BEAM_BASE,      run: US_BEAM_RUN,      color: VAC_COLORS[8], stepRun: false },
  { base: IP_BEFORE_BASE,    run: IP_BEFORE_RUN,    color: VAC_COLORS[7], stepRun: false },
  { base: IP_LOAD_BASE,      run: IP_LOAD_RUN,      color: VAC_COLORS[6], stepRun: true },
  { base: null,              run: WG_IP_RUN,        color: VAC_COLORS[5], stepRun: false },
  { base: PC_IP_BASE,        run: PC_IP_RUN,        color: VAC_COLORS[4], stepRun: false },
  { base: IP_BEFORE_PC_BASE, run: IP_BEFORE_PC_RUN, color: VAC_COLORS[3], stepRun: false }
];
const vacClip = clipRect("vacClip", 48, 463, 724, 372);
const vacLinear = d3.line().x(d => vacX(d[0])).y(d => vacY(d[1]));
const vacStep = d3.line().x(d => vacX(d[0])).y(d => vacY(d[1])).curve(d3.curveStepAfter);
const vacLines = svg.append("g").attr("clip-path", vacClip);
vacPlots.forEach(p => {
  let run = p.run;
  if (p.base) {
    // quantised gauge readings: each sample holds until the next one
    const pts = p.base.map((v, i) => [BASE_T0 + i * BASE_DT, v]);
    const last = pts[pts.length - 1];
    vacLines.append("path").attr("d", vacStep(pts.concat([[run[0][0], last[1]]]))).attr("fill", "none")
      .attr("stroke", p.color).attr("stroke-width", 1.8);
    run = [[run[0][0], last[1]]].concat(run);
  }
  vacLines.append("path").attr("d", (p.stepRun ? vacStep : vacLinear)(run)).attr("fill", "none")
    .attr("stroke", p.color).attr("stroke-width", 1.8).attr("stroke-linejoin", "round");
});

svg.append("path").attr("d", "M48,834V463H772").attr("fill", "none").attr("stroke", "#6a6a6a").attr("stroke-width", 1.5);
svg.append("path").attr("d", "M772,463V834H48").attr("fill", "none").attr("stroke", "#9a9a9a").attr("stroke-width", 1);

svg.append("g").attr("transform", "translate(772,0)")
  .call(d3.axisRight(vacY).tickValues(vacMinor).tickSize(3).tickFormat("")).call(styleAxis);
svg.append("g").attr("transform", "translate(772,0)")
  .call(d3.axisRight(vacY).tickValues(VAC_Y_TICKS).tickSize(6).tickPadding(1).tickFormat((d, i) => VAC_Y_LABELS[i])).call(styleAxis);

const vacXMinor = d3.range(230 - 18 * 10, 1913, 18).filter(t => t >= 52 && !VAC_X_TICKS.includes(t));
svg.append("g").attr("transform", "translate(0,834)")
  .call(d3.axisBottom(vacX).tickValues(vacXMinor).tickSize(4).tickSizeOuter(0).tickFormat("")).call(styleAxis);
svg.append("g").attr("transform", "translate(0,834)")
  .call(d3.axisBottom(vacX).tickValues(VAC_X_TICKS).tickSize(7).tickSizeOuter(0).tickFormat("")).call(styleAxis);

timeLabels(vacX, VAC_X_TICKS, VAC_X_LABELS, 854, vacFrameClip);
svg.append("text").attr("x", 409).attr("y", 883).attr("text-anchor", "middle")
  .attr("font-family", FONT).attr("font-size", 11.5).attr("fill", "#1e1e1e").text("Time");

svg.append("text").attr("x", 67).attr("y", 756).attr("font-family", FONT).attr("font-weight", 700)
  .attr("font-size", 35.5).attr("fill", "#000").attr("textLength", 258).attr("lengthAdjust", "spacingAndGlyphs")
  .text("Vacuum Levels");

// ===== Legends =====
function legend(box, rows, opts) {
  const g = svg.append("g");
  g.append("rect").attr("x", box[0]).attr("y", box[1]).attr("width", box[2]).attr("height", box[3])
    .attr("fill", "#d4d4d4").attr("stroke", "#1c1c1c").attr("stroke-width", 1.5);
  rows.forEach((r, i) => {
    const cy = opts.y0 + i * 46;
    // checkbox
    const cx = opts.cbX, s = 25, top = cy - s / 2;
    g.append("rect").attr("x", cx).attr("y", top).attr("width", s).attr("height", s)
      .attr("fill", "#f2f2f2").attr("stroke", "#8c8c8c").attr("stroke-width", 1.5);
    g.append("rect").attr("x", cx + 3).attr("y", top + 3).attr("width", s - 6).attr("height", s - 6)
      .attr("fill", r.on ? "url(#cbOn)" : "url(#cbOff)").attr("stroke", "#b4b4b4").attr("stroke-width", 1);
    if (r.on) {
      g.append("path").attr("d", `M${cx + 7.5},${top + 13}L${cx + 11.5},${top + 18.5}L${cx + 17.5},${top + 7}`)
        .attr("fill", "none").attr("stroke", "#3f4f84").attr("stroke-width", 2.6).attr("stroke-linecap", "round");
    }
    // name
    g.append("text").attr("x", opts.textX).attr("y", cy + 8).attr("font-family", FONT).attr("font-size", 22)
      .attr("fill", "#171717").text(r.name);
    // plot style swatch
    const sx = opts.swX, sy = cy - 19, sw = 57, sh = 38;
    g.append("rect").attr("x", sx).attr("y", sy).attr("width", sw).attr("height", sh)
      .attr("fill", r.enabled ? "#f8f8f8" : "#ebebeb");
    g.append("path").attr("d", `M${sx},${sy + sh}V${sy}H${sx + sw}`).attr("fill", "none")
      .attr("stroke", r.enabled ? "#1a1a1a" : "#a6a6a6").attr("stroke-width", 2);
    g.append("path").attr("d", `M${sx + sw},${sy}V${sy + sh}H${sx}`).attr("fill", "none")
      .attr("stroke", r.enabled ? "#6f6f6f" : "#b8b8b8").attr("stroke-width", 2);
    const pts = r.thick ? [[4, 29], [29, 7], [53, 22]] : [[4, 27], [19, 6], [37, 27], [53, 6]];
    g.append("path").attr("d", d3.line()(pts.map(p => [sx + p[0], sy + p[1]]))).attr("fill", "none")
      .attr("stroke", r.color).attr("stroke-width", r.thick ? 5 : 1.8).attr("stroke-opacity", r.enabled ? 1 : 0.75)
      .attr("stroke-linejoin", "miter");
  });
}

legend([827, 7, 286, 279],
  RF_NAMES.map((n, i) => ({ name: n, color: RF_COLORS[i], on: true, enabled: true, thick: i === 0 })),
  { y0: 32, cbX: 835, textX: 873, swX: 1036 });

legend([827, 453, 279, 415],
  VAC_NAMES.map((n, i) => ({ name: n, color: VAC_COLORS[i], on: VAC_ENABLED[i], enabled: VAC_ENABLED[i], thick: i === 0 })),
  { y0: 473, cbX: 837, textX: 875, swX: 1037 });
</script>
</body>
</html>
